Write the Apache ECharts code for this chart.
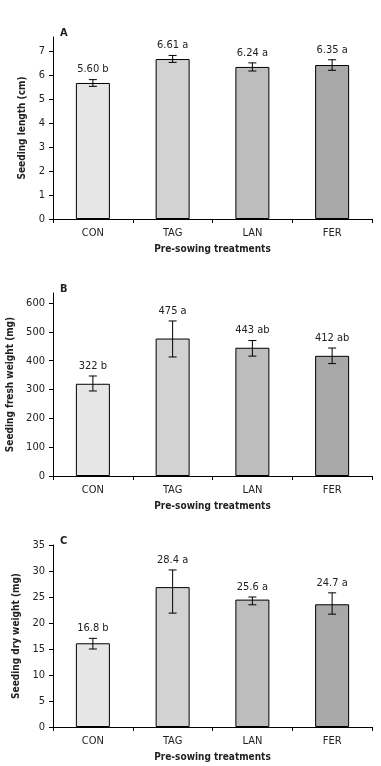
<!DOCTYPE html>
<html>
<head>
<meta charset="utf-8">
<script src="https://cdn.jsdelivr.net/npm/echarts@6/dist/echarts.min.js"></script>
<style>
  html, body { margin: 0; padding: 0; background: #fff; }
  #chart { width: 381px; height: 766px; }
</style>
</head>
<body>
<div id="chart"></div>
<script>
const categories = ['CON', 'TAG', 'LAN', 'FER']

// A - seeding length
const lengthMean = [5.68, 6.68, 6.35, 6.43]
const lengthHigh = [5.82, 6.83, 6.52, 6.65]
const lengthLow = [5.54, 6.54, 6.18, 6.21]
const lengthLabels = ['5.60 b', '6.61 a', '6.24 a', '6.35 a']
const lengthTicks = [0, 1, 2, 3, 4, 5, 6, 7]

// B - fresh weight
const freshMean = [320, 477, 445, 417]
const freshHigh = [347, 538, 470, 444]
const freshLow = [295, 413, 416, 390]
const freshLabels = ['322 b', '475 a', '443 ab', '412 ab']
const freshTicks = [0, 100, 200, 300, 400, 500, 600]

// C - dry weight
const dryMean = [16.1, 26.9, 24.5, 23.6]
const dryHigh = [17.05, 30.2, 25.0, 25.8]
const dryLow = [15.0, 21.9, 23.5, 21.7]
const dryLabels = ['16.8 b', '28.4 a', '25.6 a', '24.7 a']
const dryTicks = [0, 5, 10, 15, 20, 25, 30, 35]

const barColors = ['#e6e6e6', '#d2d2d2', '#bdbdbd', '#a8a8a8']
const font = "'DejaVu Sans Condensed', sans-serif"

const panels = [
  { letter: 'A', name: 'Seeding length (cm)', mean: lengthMean, high: lengthHigh, low: lengthLow, labels: lengthLabels, ticks: lengthTicks, max: 7.6, top: 37, bottom: 219 },
  { letter: 'B', name: 'Seeding fresh weight (mg)', mean: freshMean, high: freshHigh, low: freshLow, labels: freshLabels, ticks: freshTicks, max: 635, top: 293, bottom: 476 },
  { letter: 'C', name: 'Seeding dry weight (mg)', mean: dryMean, high: dryHigh, low: dryLow, labels: dryLabels, ticks: dryTicks, max: 35, top: 545, bottom: 727 }
]

let option = {
  animation: false,
  backgroundColor: '#fff',
  textStyle: { fontFamily: font },
  title: [],
  grid: [],
  xAxis: [],
  yAxis: [],
  series: []
}

panels.forEach((p, i) => {
  option.title.push({
    text: p.letter,
    left: 55,
    top: p.top - 14,
    textStyle: { fontSize: 11, fontWeight: 'bold', color: '#222', fontFamily: font }
  })
  option.grid.push({
    left: 53,
    right: 9,
    top: p.top,
    height: p.bottom - p.top,
    outerBoundsMode: 'none'
  })
  option.xAxis.push({
    type: 'category',
    gridIndex: i,
    data: categories,
    name: 'Pre-sowing treatments',
    nameLocation: 'middle',
    nameGap: 25,
    nameTextStyle: { fontSize: 10, fontWeight: 'bold', color: '#222', fontFamily: font },
    axisLine: { lineStyle: { color: '#000', width: 1 } },
    axisTick: { show: true, length: 4, lineStyle: { color: '#000' } },
    axisLabel: { margin: 9, fontSize: 11, color: '#222', fontFamily: font }
  })
  option.yAxis.push({
    type: 'value',
    gridIndex: i,
    min: 0,
    max: p.max,
    name: p.name,
    nameLocation: 'middle',
    nameGap: 25,
    nameTextStyle: { fontSize: 10, fontWeight: 'bold', color: '#222', fontFamily: font },
    splitLine: { show: false },
    axisLine: { show: true, lineStyle: { color: '#000', width: 1 } },
    axisTick: { show: true, length: 4, lineStyle: { color: '#000' }, customValues: p.ticks },
    axisLabel: { margin: 8, fontSize: 11, color: '#222', fontFamily: font, customValues: p.ticks }
  })
  option.series.push({
    type: 'bar',
    xAxisIndex: i,
    yAxisIndex: i,
    barWidth: 34,
    data: p.mean.map((v, j) => ({
      value: v,
      itemStyle: { color: barColors[j], borderColor: '#000', borderWidth: 1 }
    }))
  })
  option.series.push({
    type: 'custom',
    xAxisIndex: i,
    yAxisIndex: i,
    data: categories.map((c, j) => [j, p.low[j], p.high[j]]),
    encode: { x: 0, y: [1, 2] },
    z: 5,
    renderItem: function (params, api) {
      let x = api.coord([api.value(0), 0])[0]
      let lo = api.coord([api.value(0), api.value(1)])[1]
      let hi = api.coord([api.value(0), api.value(2)])[1]
      let st = { stroke: '#000', lineWidth: 1 }
      return {
        type: 'group',
        children: [
          { type: 'line', shape: { x1: x, y1: lo, x2: x, y2: hi }, style: st },
          { type: 'line', shape: { x1: x - 4, y1: lo, x2: x + 4, y2: lo }, style: st },
          { type: 'line', shape: { x1: x - 4, y1: hi, x2: x + 4, y2: hi }, style: st },
          {
            type: 'text',
            x: x,
            y: hi - 10,
            style: {
              text: p.labels[params.dataIndex],
              fill: '#222',
              font: '11px ' + font,
              align: 'center',
              verticalAlign: 'middle'
            }
          }
        ]
      }
    }
  })
})

let myChart = echarts.init(document.getElementById('chart'))
myChart.setOption(option)
</script>
</body>
</html>
